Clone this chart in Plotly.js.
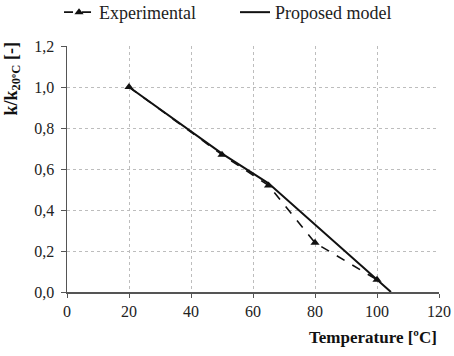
<!DOCTYPE html>
<html><head><meta charset="utf-8">
<script src="https://cdn.plot.ly/plotly-3.0.1.min.js"></script>
<style>html,body{margin:0;padding:0;background:#fff}</style>
</head><body><div id="chart" style="width:454px;height:356px"></div>
<script>
const expTemp = [20, 50, 65, 80, 100];
const expRatio = [1.0, 0.67, 0.52, 0.24, 0.06];
const modelTemp = [20, 50, 65, 104.5];
const modelRatio = [1.0, 0.675, 0.53, 0.0];
const xTicks = [0, 20, 40, 60, 80, 100, 120];
const yTicks = [0, 0.2, 0.4, 0.6, 0.8, 1.0, 1.2];
const yTickText = ['0,0', '0,2', '0,4', '0,6', '0,8', '1,0', '1,2'];

const serif = '"Liberation Serif", "Times New Roman", serif';
const traces = [
  {x: expTemp, y: expRatio, name: 'Experimental', mode: 'lines+markers',
   line: {color: '#111', width: 1.6, dash: 'dash'},
   marker: {symbol: 'triangle-up', size: 8, color: '#111'}},
  {x: modelTemp, y: modelRatio, name: 'Proposed model', mode: 'lines',
   line: {color: '#111', width: 2}}
];
const layout = {
  width: 454, height: 356,
  margin: {l: 67, r: 15, t: 46, b: 64},
  paper_bgcolor: '#fff', plot_bgcolor: '#fff',
  font: {family: serif, size: 16, color: '#222'},
  showlegend: true,
  legend: {orientation: 'h', xref: 'container', yref: 'container', x: 0.13, xanchor: 'left',
           y: 0.965, yanchor: 'middle',
           font: {size: 18, family: serif, color: '#222'}, entrywidth: 131, entrywidthmode: 'pixels'},
  xaxis: {range: [0, 120], tickvals: xTicks, showgrid: true, gridcolor: '#bdbdbd', griddash: 'dot',
          gridwidth: 1, zeroline: false, showline: true, linecolor: '#555', linewidth: 1.5,
          ticks: 'outside', ticklen: 4, tickcolor: '#555', tickfont: {size: 16, family: serif, color: '#222'}},
  yaxis: {range: [0, 1.2], tickvals: yTicks, ticktext: yTickText, showgrid: true, gridcolor: '#bdbdbd',
          griddash: 'dot', gridwidth: 1, zeroline: false, showline: true, linecolor: '#555', linewidth: 1.5,
          ticks: 'outside', ticklen: 5, tickcolor: '#555', ticklabelstandoff: 3,
          tickfont: {size: 16, family: serif, color: '#222'}},
  annotations: [
    {text: '<b>Temperature [ºC]</b>', xref: 'paper', yref: 'paper', x: 1, y: 0,
     xanchor: 'right', yanchor: 'top', yshift: -34, showarrow: false, font: {size: 17, family: serif, color: '#111'}},
    {text: '<b>k/k<sub>20ºC</sub> [-]</b>', xref: 'paper', yref: 'paper', x: 0, y: 1,
     xanchor: 'center', yanchor: 'top', xshift: -55, yshift: 5, textangle: -90, showarrow: false,
     font: {size: 18, family: serif, color: '#111'}}
  ]
};
Plotly.newPlot('chart', traces, layout, {displayModeBar: false, staticPlot: true});
</script></body></html>
